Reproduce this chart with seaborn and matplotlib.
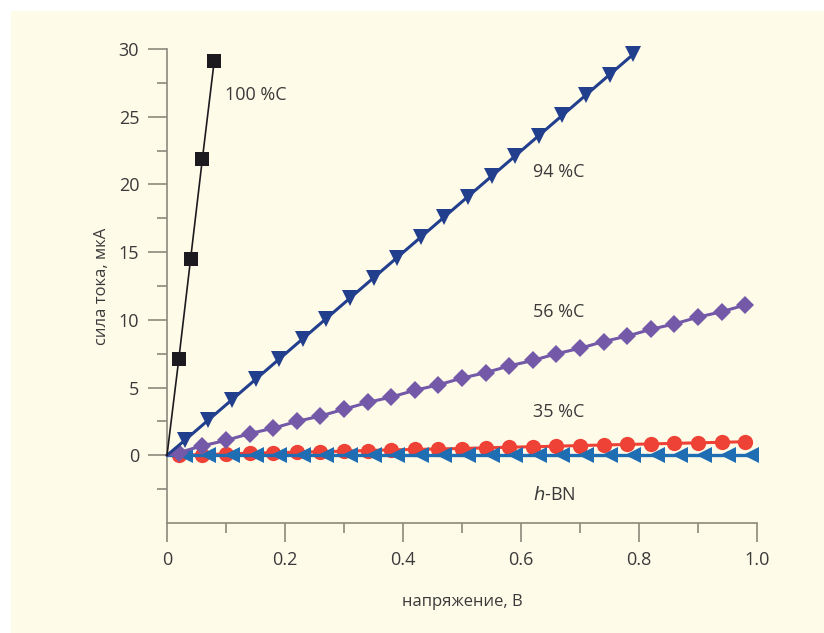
import matplotlib
matplotlib.use("Agg")
import matplotlib.pyplot as plt
from matplotlib.patches import Rectangle
from matplotlib.ticker import FixedLocator
import seaborn as sns
import pandas as pd

# ---- data ----
x_100 = [0.0, 0.02, 0.04, 0.06, 0.08]
y_100 = [0.0, 7.1, 14.5, 21.9, 29.1]

x_94 = [0.0, 0.03, 0.07, 0.11, 0.15, 0.19, 0.23, 0.27, 0.31, 0.35, 0.39,
        0.43, 0.47, 0.51, 0.55, 0.59, 0.63, 0.67, 0.71, 0.75, 0.79]
y_94 = [0.0, 1.1, 2.6, 4.1, 5.6, 7.1, 8.6, 10.1, 11.6, 13.1, 14.6,
        16.1, 17.6, 19.1, 20.6, 22.1, 23.6, 25.1, 26.6, 28.1, 29.6]

x_56 = [0.0, 0.02, 0.06, 0.10, 0.14, 0.18, 0.22, 0.26, 0.30, 0.34, 0.38, 0.42,
        0.46, 0.50, 0.54, 0.58, 0.62, 0.66, 0.70, 0.74, 0.78, 0.82, 0.86,
        0.90, 0.94, 0.98]
y_56 = [0.0, 0.2, 0.7, 1.1, 1.6, 2.0, 2.5, 2.9, 3.4, 3.9, 4.3, 4.8,
        5.2, 5.7, 6.1, 6.6, 7.0, 7.5, 7.9, 8.4, 8.8, 9.3, 9.7,
        10.2, 10.6, 11.1]

x_35 = [0.0, 0.02, 0.06, 0.10, 0.14, 0.18, 0.22, 0.26, 0.30, 0.34, 0.38, 0.42,
        0.46, 0.50, 0.54, 0.58, 0.62, 0.66, 0.70, 0.74, 0.78, 0.82, 0.86,
        0.90, 0.94, 0.98]
y_35 = [0.0, 0.0, 0.05, 0.1, 0.15, 0.2, 0.22, 0.27, 0.3, 0.35, 0.4, 0.43,
        0.47, 0.5, 0.55, 0.6, 0.63, 0.67, 0.72, 0.76, 0.8, 0.84, 0.88,
        0.92, 0.96, 1.0]

x_bn = [0.0, 0.03, 0.07, 0.11, 0.15, 0.19, 0.23, 0.27, 0.31, 0.35, 0.39, 0.43,
        0.47, 0.51, 0.55, 0.59, 0.63, 0.67, 0.71, 0.75, 0.79, 0.83, 0.87,
        0.91, 0.95, 0.99]
y_bn = [0.0] * 26

labels = ["100 %C", "94 %C", "56 %C", "35 %C", "h-BN"]
label_x = [0.098, 0.62, 0.62, 0.62, 0.62]
label_y = [26.6, 20.9, 10.6, 3.2, -2.9]

x_ticks = [0.0, 0.2, 0.4, 0.6, 0.8, 1.0]
x_tick_labels = ["0", "0.2", "0.4", "0.6", "0.8", "1.0"]
y_ticks = [0, 5, 10, 15, 20, 25, 30]

# ---- style ----
sns.set_style("white")
plt.rcParams['font.family'] = ['Open Sans', 'DejaVu Sans']

cream = "#fffbe9"
spine_col = "#8c8a7c"
text_col = "#3a3a3a"

fig = plt.figure(figsize=(8.24, 6.33), dpi=100, facecolor="white")
fig.patches.append(Rectangle((11 / 824, 0), 1, 1 - 11 / 633, transform=fig.transFigure,
                             facecolor=cream, edgecolor="none", zorder=-10))
ax = fig.add_axes([167 / 824, 1 - 523 / 633, 590 / 824, (523 - 49) / 633])
ax.set_facecolor(cream)

series = [
    (x_35, y_35, "#ef4236", "o", 11, 2.2),
    (x_bn, y_bn, "#1f6db3", "<", 12, 2.4),
    (x_56, y_56, "#7459a8", "D", 9.5, 2.2),
    (x_94, y_94, "#223f8e", "v", 12, 2.2),
    (x_100, y_100, "#1c1a1f", "s", 10, 1.2),
]
for i, (xs, ys, col, mk, ms, lw) in enumerate(series):
    df = pd.DataFrame({"x": xs, "y": ys})
    sns.lineplot(data=df, x="x", y="y", ax=ax, color=col, marker=mk,
                 markersize=ms, markeredgewidth=0, linewidth=lw,
                 markevery=list(range(1, len(xs))),
                 sort=False, estimator=None, zorder=3 + i, clip_on=False)

ax.set_xlim(0, 1.0)
ax.set_ylim(-5, 30)
ax.set_xticks(x_ticks)
ax.set_xticklabels(x_tick_labels)
ax.set_yticks(y_ticks)
ax.xaxis.set_minor_locator(FixedLocator([0.1, 0.3, 0.5, 0.7, 0.9]))
ax.yaxis.set_minor_locator(FixedLocator([-2.5, 2.5, 7.5, 12.5, 17.5, 22.5, 27.5]))

for s in ["top", "right"]:
    ax.spines[s].set_visible(False)
for s in ["left", "bottom"]:
    ax.spines[s].set_color(spine_col)
    ax.spines[s].set_linewidth(1.2)

ax.tick_params(which="major", direction="out", length=14, width=1.2,
               color=spine_col, labelsize=13, labelcolor=text_col, pad=6,
               left=True, bottom=True)
ax.tick_params(which="minor", direction="out", length=7, width=1.2,
               color=spine_col, left=True, bottom=True)

ax.set_xlabel("напряжение, В", fontsize=12, color=text_col, labelpad=18)
ax.set_ylabel("сила тока, мкА", fontsize=12, color=text_col, labelpad=6)

for lab, lx, ly in zip(labels, label_x, label_y):
    if lab == "h-BN":
        ax.text(lx, ly, r"$\mathit{h}$-BN", fontsize=13, color=text_col,
                ha="left", va="center")
    else:
        ax.text(lx, ly, lab, fontsize=13, color=text_col, ha="left", va="center")

ax.grid(False)
fig.savefig("out.png", dpi=100, facecolor="white")
